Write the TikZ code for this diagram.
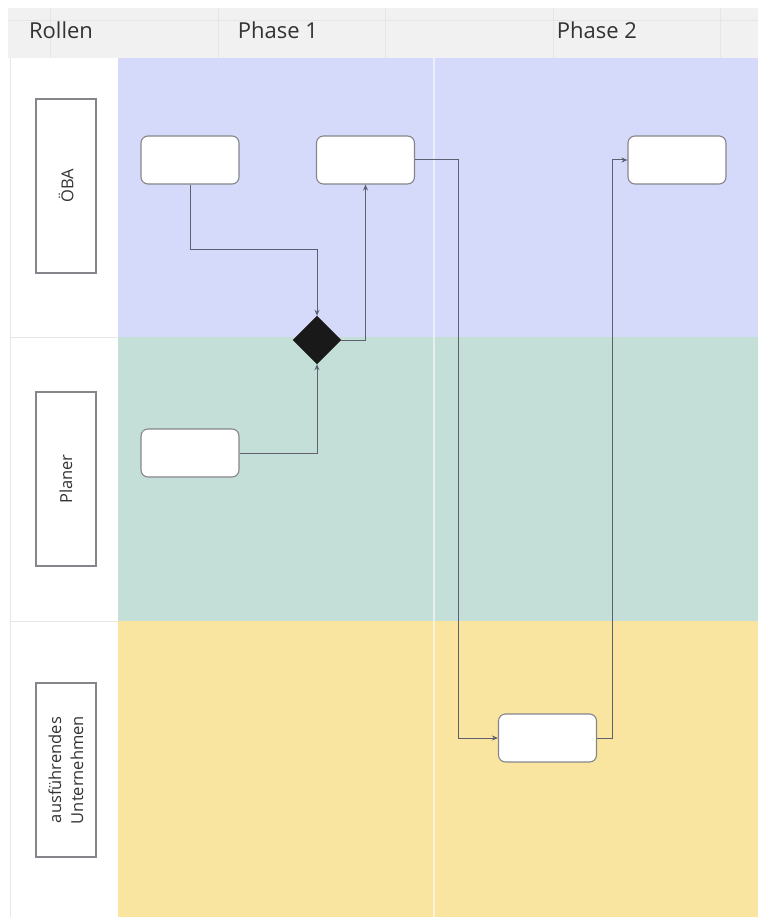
\documentclass[tikz,border=0pt]{standalone}
\usepackage{fontspec}
\setmainfont{Open Sans}
\usetikzlibrary{shapes.geometric,arrows.meta}
\definecolor{headgray}{HTML}{F1F1F1}
\definecolor{gridgray}{HTML}{E6E6E6}
\definecolor{laneblue}{HTML}{D6DAFA}
\definecolor{lanegreen}{HTML}{C4DED8}
\definecolor{laneyellow}{HTML}{F9E4A0}
\definecolor{wire}{HTML}{5E6070}
\definecolor{boxline}{HTML}{85858C}
\definecolor{txt}{HTML}{333333}
\tikzset{
  task/.style={draw=boxline, line width=1.1pt, fill=white, rounded corners=7pt,
    minimum width=98pt, minimum height=48pt, inner sep=0pt},
  rolebox/.style={draw=boxline, line width=1.1pt, fill=white, minimum width=60pt,
    minimum height=174pt, inner sep=0pt},
  roletext/.style={rotate=90, font=\fontsize{16.5}{22}\selectfont, text=txt, align=center},
  headtext/.style={font=\fontsize{22}{26}\selectfont, text=txt},
  gate/.style={diamond, fill=black!90, draw=black!90, minimum width=48pt, minimum height=48pt, inner sep=0pt},
  flow/.style={draw=wire, line width=1pt, -{Stealth[length=6pt,width=5pt]}},
}
\begin{document}
\begin{tikzpicture}[x=1pt,y=-1pt]
\useasboundingbox (0,0) rectangle (758,917);
\fill[white] (0,0) rectangle (758,917);
% header band with faint grid
\fill[headgray] (8,8) rectangle (758,58);
\foreach \gx in {50,218,385,553,720} \draw[gridgray, line width=0.8pt] (\gx,8) -- (\gx,58);
\draw[gridgray, line width=0.8pt] (8,20) -- (758,20);
% left role column
\draw[gridgray, line width=0.8pt] (10,58) -- (10,917);
\draw[gridgray, line width=0.8pt] (10,337) -- (118,337);
\draw[gridgray, line width=0.8pt] (10,621) -- (118,621);
% swim lanes
\fill[laneblue] (118,58) rectangle (758,337);
\fill[lanegreen] (118,337) rectangle (758,621);
\fill[laneyellow] (118,621) rectangle (758,917);
\draw[white, opacity=0.55, line width=1.8pt] (434,58) -- (434,917);
% header labels
\node[headtext] (hRollen) at (61,30) {Rollen};
\node[headtext] (hPhase1) at (278,30) {Phase 1};
\node[headtext] (hPhase2) at (597,30) {Phase 2};
% role boxes
\node[rolebox] (rOBA) at (66,186) {};
\node[roletext] at (rOBA) {ÖBA};
\node[rolebox] (rPlaner) at (66,479) {};
\node[roletext] at (rPlaner) {Planer};
\node[rolebox] (rAU) at (66,770) {};
\node[roletext] at (rAU) {ausführendes\\Unternehmen};
% tasks
\node[task] (tA) at (190,160) {};
\node[task] (tB) at (365.5,160) {};
\node[task] (tC) at (677,160) {};
\node[task] (tD) at (190,453) {};
\node[task] (tE) at (547.5,738) {};
\node[gate] (g) at (317,340) {};
% flows
\draw[flow] (tA.south) |- (317,249) -- (g.north);
\draw[flow] (tD.east) -| (g.south);
\draw[flow] (g.east) -| (tB.south);
\coordinate (c1) at (458,160);
\draw[flow] (tB.east) -- (c1) |- (tE.west);
\coordinate (c2) at (612,738);
\draw[flow] (tE.east) -- (c2) |- (tC.west);
\end{tikzpicture}
\end{document}
